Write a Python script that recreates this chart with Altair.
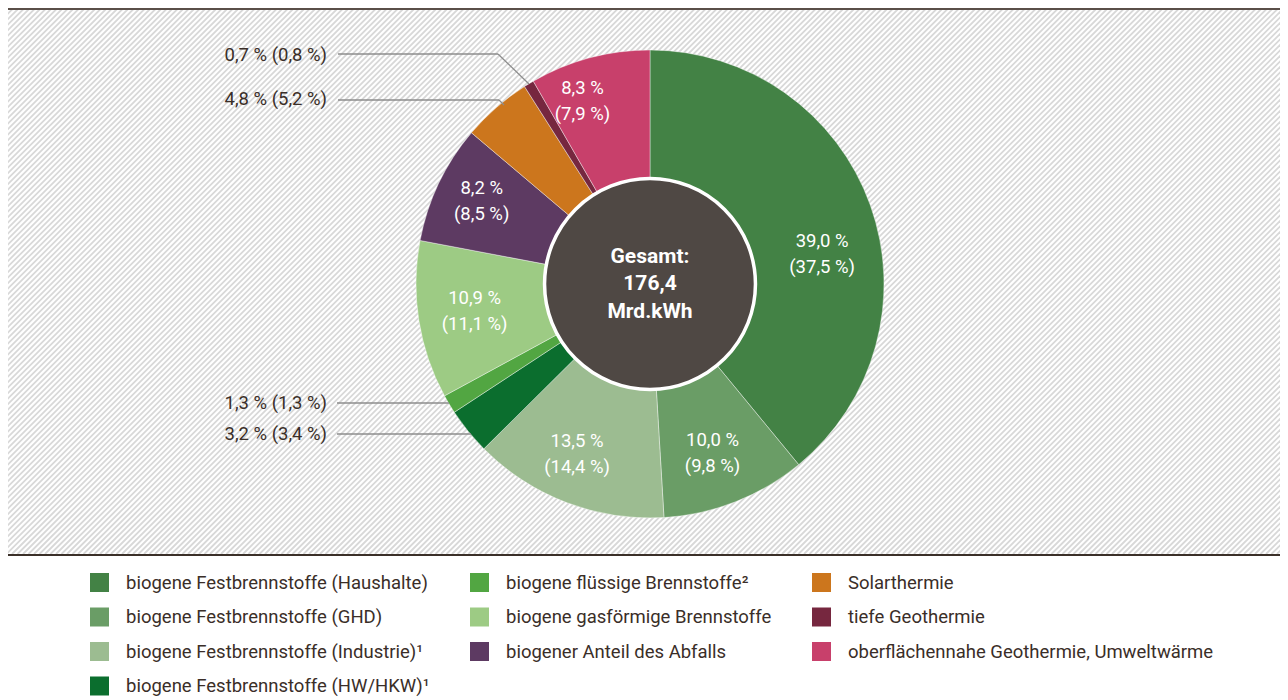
import altair as alt
import pandas as pd
import numpy as np

# ---------------- data ----------------
categories = [
    "biogene Festbrennstoffe (Haushalte)",
    "biogene Festbrennstoffe (GHD)",
    "biogene Festbrennstoffe (Industrie)¹",
    "biogene Festbrennstoffe (HW/HKW)¹",
    "biogene flüssige Brennstoffe²",
    "biogene gasförmige Brennstoffe",
    "biogener Anteil des Abfalls",
    "Solarthermie",
    "tiefe Geothermie",
    "oberflächennahe Geothermie, Umweltwärme",
]
share = [39.0, 10.0, 13.5, 3.2, 1.3, 10.9, 8.2, 4.8, 0.7, 8.3]
share_prev = [37.5, 9.8, 14.4, 3.4, 1.3, 11.1, 8.5, 5.2, 0.8, 7.9]
colors = ["#438245", "#6a9d66", "#9cbc91", "#0b6e2e", "#52a642",
          "#9dcb84", "#5d3a62", "#cc761d", "#76273f", "#c8406b"]
total_label = ["Gesamt:", "176,4", "Mrd.kWh"]

# legend is filled row by row, reference reads column by column
legend_order_idx = [0, 4, 7, 1, 5, 8, 2, 6, 9, 3]

def de(v):
    return f"{v:.1f}".replace(".", ",") + " %"

df = pd.DataFrame({
    "idx": list(range(len(categories))),
    "cat": categories,
    "share": share,
    "prev": share_prev,
})
df["lab"] = [f"{de(a)}\n({de(b)})" for a, b in zip(share, share_prev)]
df["outlab"] = [f"{de(a)} ({de(b)})" for a, b in zip(share, share_prev)]

W, H = 1272, 690
CX, CY = 642, 276
R_OUT, R_IN = 234, 119
FONT = "Roboto"
DARK = "#3a2e28"

xs = alt.Scale(domain=[0, W], range=[0, W])
ys = alt.Scale(domain=[0, H], range=[0, H])

# ---------------- background hatch ----------------
HB = 546
offs = np.arange(-HB, W + 8, 5.5)
hatch = pd.DataFrame({"x": offs, "x2": offs + HB, "y": HB, "y2": 0})
hatch_layer = alt.Chart(hatch).mark_rule(
    stroke="#d8d8d8", strokeWidth=1.8, clip=True
).encode(
    x=alt.X("x:Q", scale=xs, axis=None),
    x2="x2:Q",
    y=alt.Y("y:Q", scale=ys, axis=None),
    y2="y2:Q",
)

one = pd.DataFrame({"k": [0]})


def rule(x1, y1, x2, y2, color, width):
    return alt.Chart(one).mark_rule(stroke=color, strokeWidth=width).encode(
        x=alt.value(x1), y=alt.value(y1), x2=alt.value(x2), y2=alt.value(y2)
    )


top_line = rule(0, 1, W, 1, "#5a4f48", 2)
bottom_line = rule(0, 547, W, 547, "#3b3029", 2)

# ---------------- donut ----------------
legend_domain = [categories[i] for i in legend_order_idx]
legend_range = [colors[i] for i in legend_order_idx]

arcs = alt.Chart(df).mark_arc(
    outerRadius=R_OUT, innerRadius=0, stroke="white", strokeWidth=0.4
).encode(
    theta=alt.Theta("share:Q", stack=True),
    order=alt.Order("idx:Q"),
    color=alt.Color(
        "cat:N",
        scale=alt.Scale(domain=legend_domain, range=legend_range),
        legend=alt.Legend(
            title=None, orient="none", legendX=82, legendY=565,
            direction="horizontal",
            columns=3, symbolType="square", symbolSize=361,
            symbolStrokeWidth=0, symbolOpacity=1,
            labelFont=FONT, labelFontSize=18.5, labelColor=DARK,
            labelOffset=17, labelLimit=600, rowPadding=15.5,
            columnPadding=40, padding=0,
        ),
    ),
    x=alt.value(CX),
    y=alt.value(CY),
)

center = alt.Chart(one).mark_circle(
    size=float(np.pi * R_IN ** 2), color="#4f4844", opacity=1,
    stroke="white", strokeWidth=3.5,
).encode(x=alt.value(CX), y=alt.value(CY))

center_text = alt.Chart(one).mark_text(
    text=total_label, font=FONT, fontSize=21, fontWeight="bold",
    color="white", lineHeight=27.5, align="center", baseline="middle",
    dy=-27.5,
).encode(x=alt.value(CX), y=alt.value(CY))

# inside labels (offsets per label to match the reference placement)
inside_offsets = {0: (6, 17), 1: (-2, -8), 2: (-10, -8), 5: (-1, -13), 6: (-9, -20), 9: (-22, -25)}


def inside_label(i, dx, dy):
    return alt.Chart(df).transform_calculate(
        t=f"datum.idx == {i} ? datum.lab : ''"
    ).mark_text(
        radius=(R_OUT + R_IN) / 2, font=FONT, fontSize=18.5, color="white",
        lineBreak="\n", lineHeight=26, align="center", baseline="middle",
        dx=dx, dy=dy,
    ).encode(
        theta=alt.Theta("share:Q", stack=True),
        order=alt.Order("idx:Q"),
        text="t:N",
        x=alt.value(CX),
        y=alt.value(CY),
    )


inside_layers = [inside_label(i, dx, dy) for i, (dx, dy) in inside_offsets.items()]

# outside labels with leader lines
LC = "#8c8c8c"


def out_label(i, y):
    return alt.Chart(df).transform_filter(f"datum.idx == {i}").mark_text(
        font=FONT, fontSize=18.5, color=DARK, align="right", baseline="middle"
    ).encode(text="outlab:N", x=alt.value(319), y=alt.value(y))


outside = [
    out_label(8, 47), rule(330, 46, 490, 46, LC, 1.3), rule(490, 46, 521, 76, LC, 1.3),
    out_label(7, 91), rule(330, 92, 491, 92, LC, 1.3), rule(491, 92, 496, 97, LC, 1.3),
    out_label(4, 395), rule(329, 395, 441, 395, LC, 1.3),
    out_label(3, 426), rule(329, 426, 463, 426, LC, 1.3),
]

chart = alt.layer(
    hatch_layer, top_line, bottom_line, arcs, center, center_text,
    *inside_layers, *outside
).properties(
    width=W, height=H, padding=0, autosize="none", background="white"
).configure_view(stroke=None)

chart.save("out.html", embed_options={"renderer": "svg", "actions": False})
